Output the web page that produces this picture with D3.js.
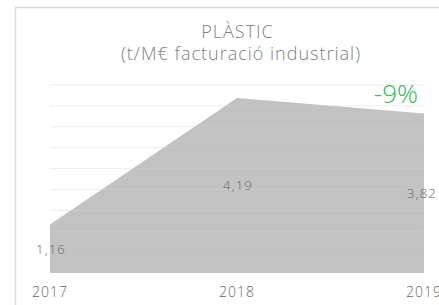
<!DOCTYPE html>
<html>
<head>
<meta charset="utf-8">
<script src="https://cdn.jsdelivr.net/npm/d3@7"></script>
<style>
  body { margin: 0; background: #fff; }
  svg { display: block; font-family: "Open Sans", "Liberation Sans", sans-serif; font-weight: 300; }
</style>
</head>
<body>
<svg id="chart"></svg>
<script>
var years = ["2017", "2018", "2019"];
var values = [1.16, 4.19, 3.82];
var labels = ["1,16", "4,19", "3,82"];
var gridTicks = [0.5, 1, 1.5, 2, 2.5, 3, 3.5, 4, 4.5];
var change = "-9%";

var width = 439, height = 305;

var svg = d3.select("#chart")
    .attr("width", width)
    .attr("height", height);

// frame of the card
svg.append("rect")
    .attr("x", 15.5).attr("y", 7.5)
    .attr("width", 460).attr("height", 320)
    .attr("fill", "#fff")
    .attr("stroke", "#dcdcdc")
    .attr("stroke-width", 1.5);

var x = d3.scalePoint().domain(years).range([50, 424]);
var y = d3.scaleLinear().domain([0, 4.5]).range([273, 85]);

svg.append("text")
    .attr("x", 237.5).attr("y", 38)
    .attr("text-anchor", "middle")
    .attr("fill", "#808080")
    .style("font-size", "18px")
    .style("letter-spacing", "1px")
    .text("PLÀSTIC");

svg.append("text")
    .attr("x", 241).attr("y", 60)
    .attr("text-anchor", "middle")
    .attr("fill", "#808080")
    .style("font-size", "18px")
    .style("letter-spacing", "1px")
    .text("(t/M€ facturació industrial)");

// gridlines
svg.append("g")
    .selectAll("line")
    .data(gridTicks)
    .join("line")
    .attr("x1", 50).attr("x2", 423)
    .attr("y1", d => y(d)).attr("y2", d => y(d))
    .attr("stroke", "#ececec")
    .attr("stroke-width", 1);

var area = d3.area()
    .x((d, i) => x(years[i]))
    .y0(y(0))
    .y1(d => y(d));

svg.append("path")
    .datum(values)
    .attr("d", area)
    .attr("fill", "#c2c2c2");

// faint gridlines showing through the area
svg.append("g")
    .selectAll("line")
    .data(gridTicks)
    .join("line")
    .attr("x1", 50).attr("x2", 423)
    .attr("y1", d => y(d)).attr("y2", d => y(d))
    .attr("stroke", "#fff")
    .attr("stroke-opacity", 0.12)
    .attr("stroke-width", 1);

// value labels
svg.append("g")
    .selectAll("text")
    .data(values)
    .join("text")
    .attr("x", (d, i) => x(years[i]) + (i === 2 ? -2 : 1))
    .attr("y", d => y(d / 2) + 5)
    .attr("text-anchor", "middle")
    .attr("fill", "#666")
    .style("font-size", "13px")
    .style("letter-spacing", "1.2px")
    .text((d, i) => labels[i]);

// year labels
svg.append("g")
    .selectAll("text")
    .data(years)
    .join("text")
    .attr("x", d => x(d))
    .attr("y", 297)
    .attr("text-anchor", "middle")
    .attr("fill", "#666")
    .style("font-size", "14px")
    .style("letter-spacing", "1px")
    .text(d => d);

svg.append("text")
    .attr("x", 418).attr("y", 103)
    .attr("text-anchor", "end")
    .attr("fill", "#2cbc52")
    .style("font-size", "26px")
    .text(change);
</script>
</body>
</html>
